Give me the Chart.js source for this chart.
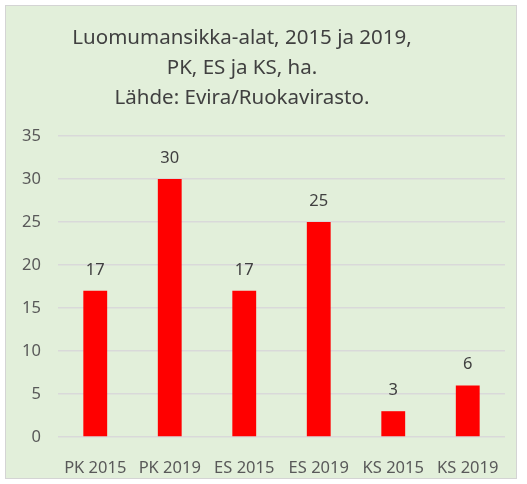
<!DOCTYPE html>
<html>
<head>
<meta charset="utf-8">
<script src="https://cdn.jsdelivr.net/npm/chart.js@4.4.0/dist/chart.umd.min.js"></script>
<style>
  body { margin: 0; background: #ffffff; }
  #frame {
    position: absolute; left: 5px; top: 5px; width: 510px; height: 472px;
    background: #e2efda; border: 1px solid #d4d4d4;
  }
  #wrap { position: absolute; left: 0; top: 0; width: 527px; height: 484px; }
</style>
</head>
<body>
<div id="frame"></div>
<div id="wrap"><canvas id="myChart" width="527" height="484"></canvas></div>
<script>
// data.....................
var categories = ["PK 2015", "PK 2019", "ES 2015", "ES 2019", "KS 2015", "KS 2019"];
var areaValues = [17, 30, 17, 25, 3, 6];
var titleLines = ["Luomumansikka-alat, 2015 ja 2019,", "PK, ES ja KS, ha.", "Lähde: Evira/Ruokavirasto."];

var fontName = "'Noto Sans', 'Open Sans', sans-serif";

// title + value labels drawn by hand
var labelPlugin = {
  id: "labelPlugin",
  afterDatasetsDraw: function (chart) {
    var ctx = chart.ctx;
    ctx.save();
    ctx.fillStyle = "#404040";
    ctx.textAlign = "center";
    ctx.textBaseline = "middle";
    ctx.font = "16.5px " + fontName;
    chart.getDatasetMeta(0).data.forEach(function (bar, i) {
      ctx.fillText(String(areaValues[i]), bar.x, bar.y - 21);
    });
    ctx.font = "20.5px " + fontName;
    titleLines.forEach(function (line, i) {
      ctx.fillText(line, 242, 38 + i * 30);
    });
    ctx.restore();
  }
};

new Chart("myChart", {
  type: "bar",
  data: {
    labels: categories,
    datasets: [{
      data: areaValues,
      backgroundColor: "#ff0000",
      barPercentage: 0.32,
      categoryPercentage: 1
    }]
  },
  options: {
    responsive: false,
    animation: false,
    layout: { padding: { top: 136, right: 22, left: 0, bottom: 0 } },
    plugins: {
      legend: { display: false },
      title: { display: false },
      tooltip: { enabled: false }
    },
    scales: {
      x: {
        grid: { display: false },
        border: { display: false },
        ticks: { color: "#595959", font: { family: fontName, size: 16.5 }, padding: 13, maxRotation: 0 },
        afterFit: function (axis) { axis.height = 47; }
      },
      y: {
        min: 0,
        max: 35,
        ticks: { stepSize: 5, color: "#595959", font: { family: fontName, size: 16.5 }, padding: 17 },
        grid: { color: "#d9d9d9", lineWidth: 1.5, drawTicks: false },
        border: { display: false },
        afterFit: function (axis) { axis.width = 58; }
      }
    }
  },
  plugins: [labelPlugin]
});
</script>
</body>
</html>
